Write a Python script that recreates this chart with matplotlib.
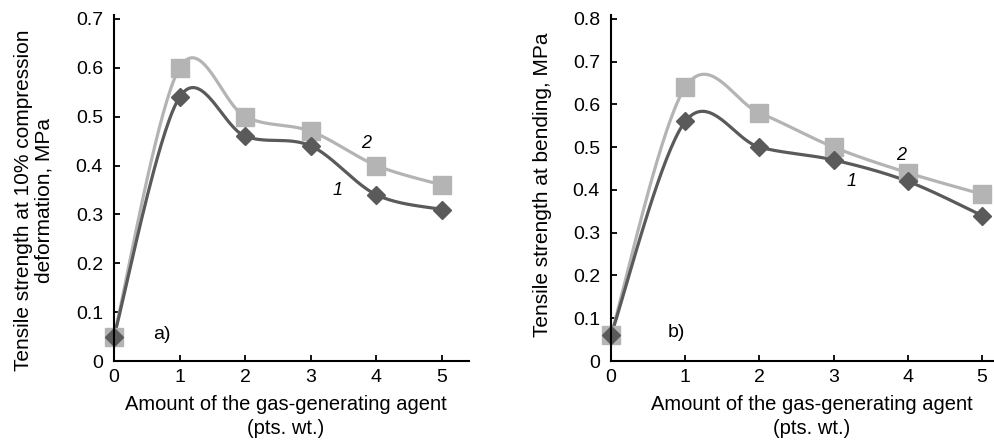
import numpy as np
import matplotlib
matplotlib.use("Agg")
import matplotlib.pyplot as plt

plt.rcParams["font.family"] = ["Liberation Sans", "DejaVu Sans"]

# gas-generating agent amount, pts. wt.
agent = [0, 1, 2, 3, 4, 5]

# a) tensile strength at 10% compression deformation, MPa
comp_1 = [0.05, 0.54, 0.46, 0.44, 0.34, 0.31]
comp_2 = [0.05, 0.60, 0.50, 0.47, 0.40, 0.36]

# b) tensile strength at bending, MPa
bend_1 = [0.06, 0.56, 0.50, 0.47, 0.42, 0.34]
bend_2 = [0.06, 0.64, 0.58, 0.50, 0.44, 0.39]

DARK = "#5a5a5a"
LIGHT = "#b4b4b4"


def smooth(x, y, n=40):
    """Excel-style smoothed line (Catmull-Rom Bezier through the points)."""
    p = np.column_stack([x, y]).astype(float)
    ext = np.vstack([p[0], p, p[-1]])
    out = []
    t = np.linspace(0, 1, n)[:, None]
    for i in range(len(p) - 1):
        p0, p1, p2, p3 = ext[i], ext[i + 1], ext[i + 2], ext[i + 3]
        c1 = p1 + (p2 - p0) / 6
        c2 = p2 - (p3 - p1) / 6
        seg = ((1 - t) ** 3 * p1 + 3 * (1 - t) ** 2 * t * c1
               + 3 * (1 - t) * t ** 2 * c2 + t ** 3 * p2)
        out.append(seg if i == 0 else seg[1:])
    s = np.vstack(out)
    return s[:, 0], s[:, 1]


def panel(ax, s1, s2, ymax, ticks, tag, tag_xy, lab1_xy, lab2_xy):
    for vals, color, marker, ms in ((s2, LIGHT, "s", 13), (s1, DARK, "D", 9.5)):
        sx, sy = smooth(agent, vals)
        ax.plot(sx, sy, color=color, lw=2.3, clip_on=False, zorder=2)
        ax.plot(agent, vals, ls="none", marker=marker, ms=ms, color=color,
                mec=color, clip_on=False, zorder=3)
    ax.set_ylim(0, ymax)
    ax.set_yticks(ticks)
    ax.set_yticklabels(["0"] + [f"{v:.1f}" for v in ticks[1:]])
    ax.set_xticks(agent)
    for sp in ("top", "right"):
        ax.spines[sp].set_visible(False)
    for sp in ("left", "bottom"):
        ax.spines[sp].set_linewidth(1.5)
        ax.spines[sp].set_zorder(4)
    ax.tick_params(direction="in", length=4, width=1.3, labelsize=14)
    ax.tick_params(axis="y", pad=8)
    ax.tick_params(axis="x", pad=6)
    ax.text(*tag_xy, tag, fontsize=14)
    ax.text(*lab1_xy, "1", fontsize=13, style="italic")
    ax.text(*lab2_xy, "2", fontsize=13, style="italic")
    ax.set_xlabel("Amount of the gas-generating agent\n(pts. wt.)", fontsize=14.5,
                  linespacing=1.35)


fig = plt.figure(figsize=(9.94, 4.41), dpi=100)
ax1 = fig.add_axes([114 / 994, 1 - 361 / 441, (469 - 114) / 994, (361 - 15) / 441])
ax2 = fig.add_axes([611 / 994, 1 - 361 / 441, (994 - 611) / 994, (361 - 15) / 441])

panel(ax1, comp_1, comp_2, 0.708, [0, 0.1, 0.2, 0.3, 0.4, 0.5, 0.6, 0.7],
      "a)", (0.6, 0.045), (3.33, 0.34), (3.76, 0.435))
ax1.set_xlim(0, 5.41)
ax1.set_ylabel("Tensile strength at 10% compression\ndeformation, MPa",
               fontsize=15, linespacing=1.1)
ax1.yaxis.set_label_coords(-0.17, 0.465)
ax1.xaxis.set_label_coords(0.483, -0.098)

panel(ax2, bend_1, bend_2, 0.809, [0, 0.1, 0.2, 0.3, 0.4, 0.5, 0.6, 0.7, 0.8],
      "b)", (0.76, 0.055), (3.17, 0.41), (3.84, 0.47))
ax2.set_xlim(0, 5.16)
ax2.set_ylabel("Tensile strength at bending, MPa", fontsize=15)
ax2.yaxis.set_label_coords(-0.155, 0.51)
ax2.xaxis.set_label_coords(0.525, -0.098)

fig.savefig("out.png", dpi=100)
